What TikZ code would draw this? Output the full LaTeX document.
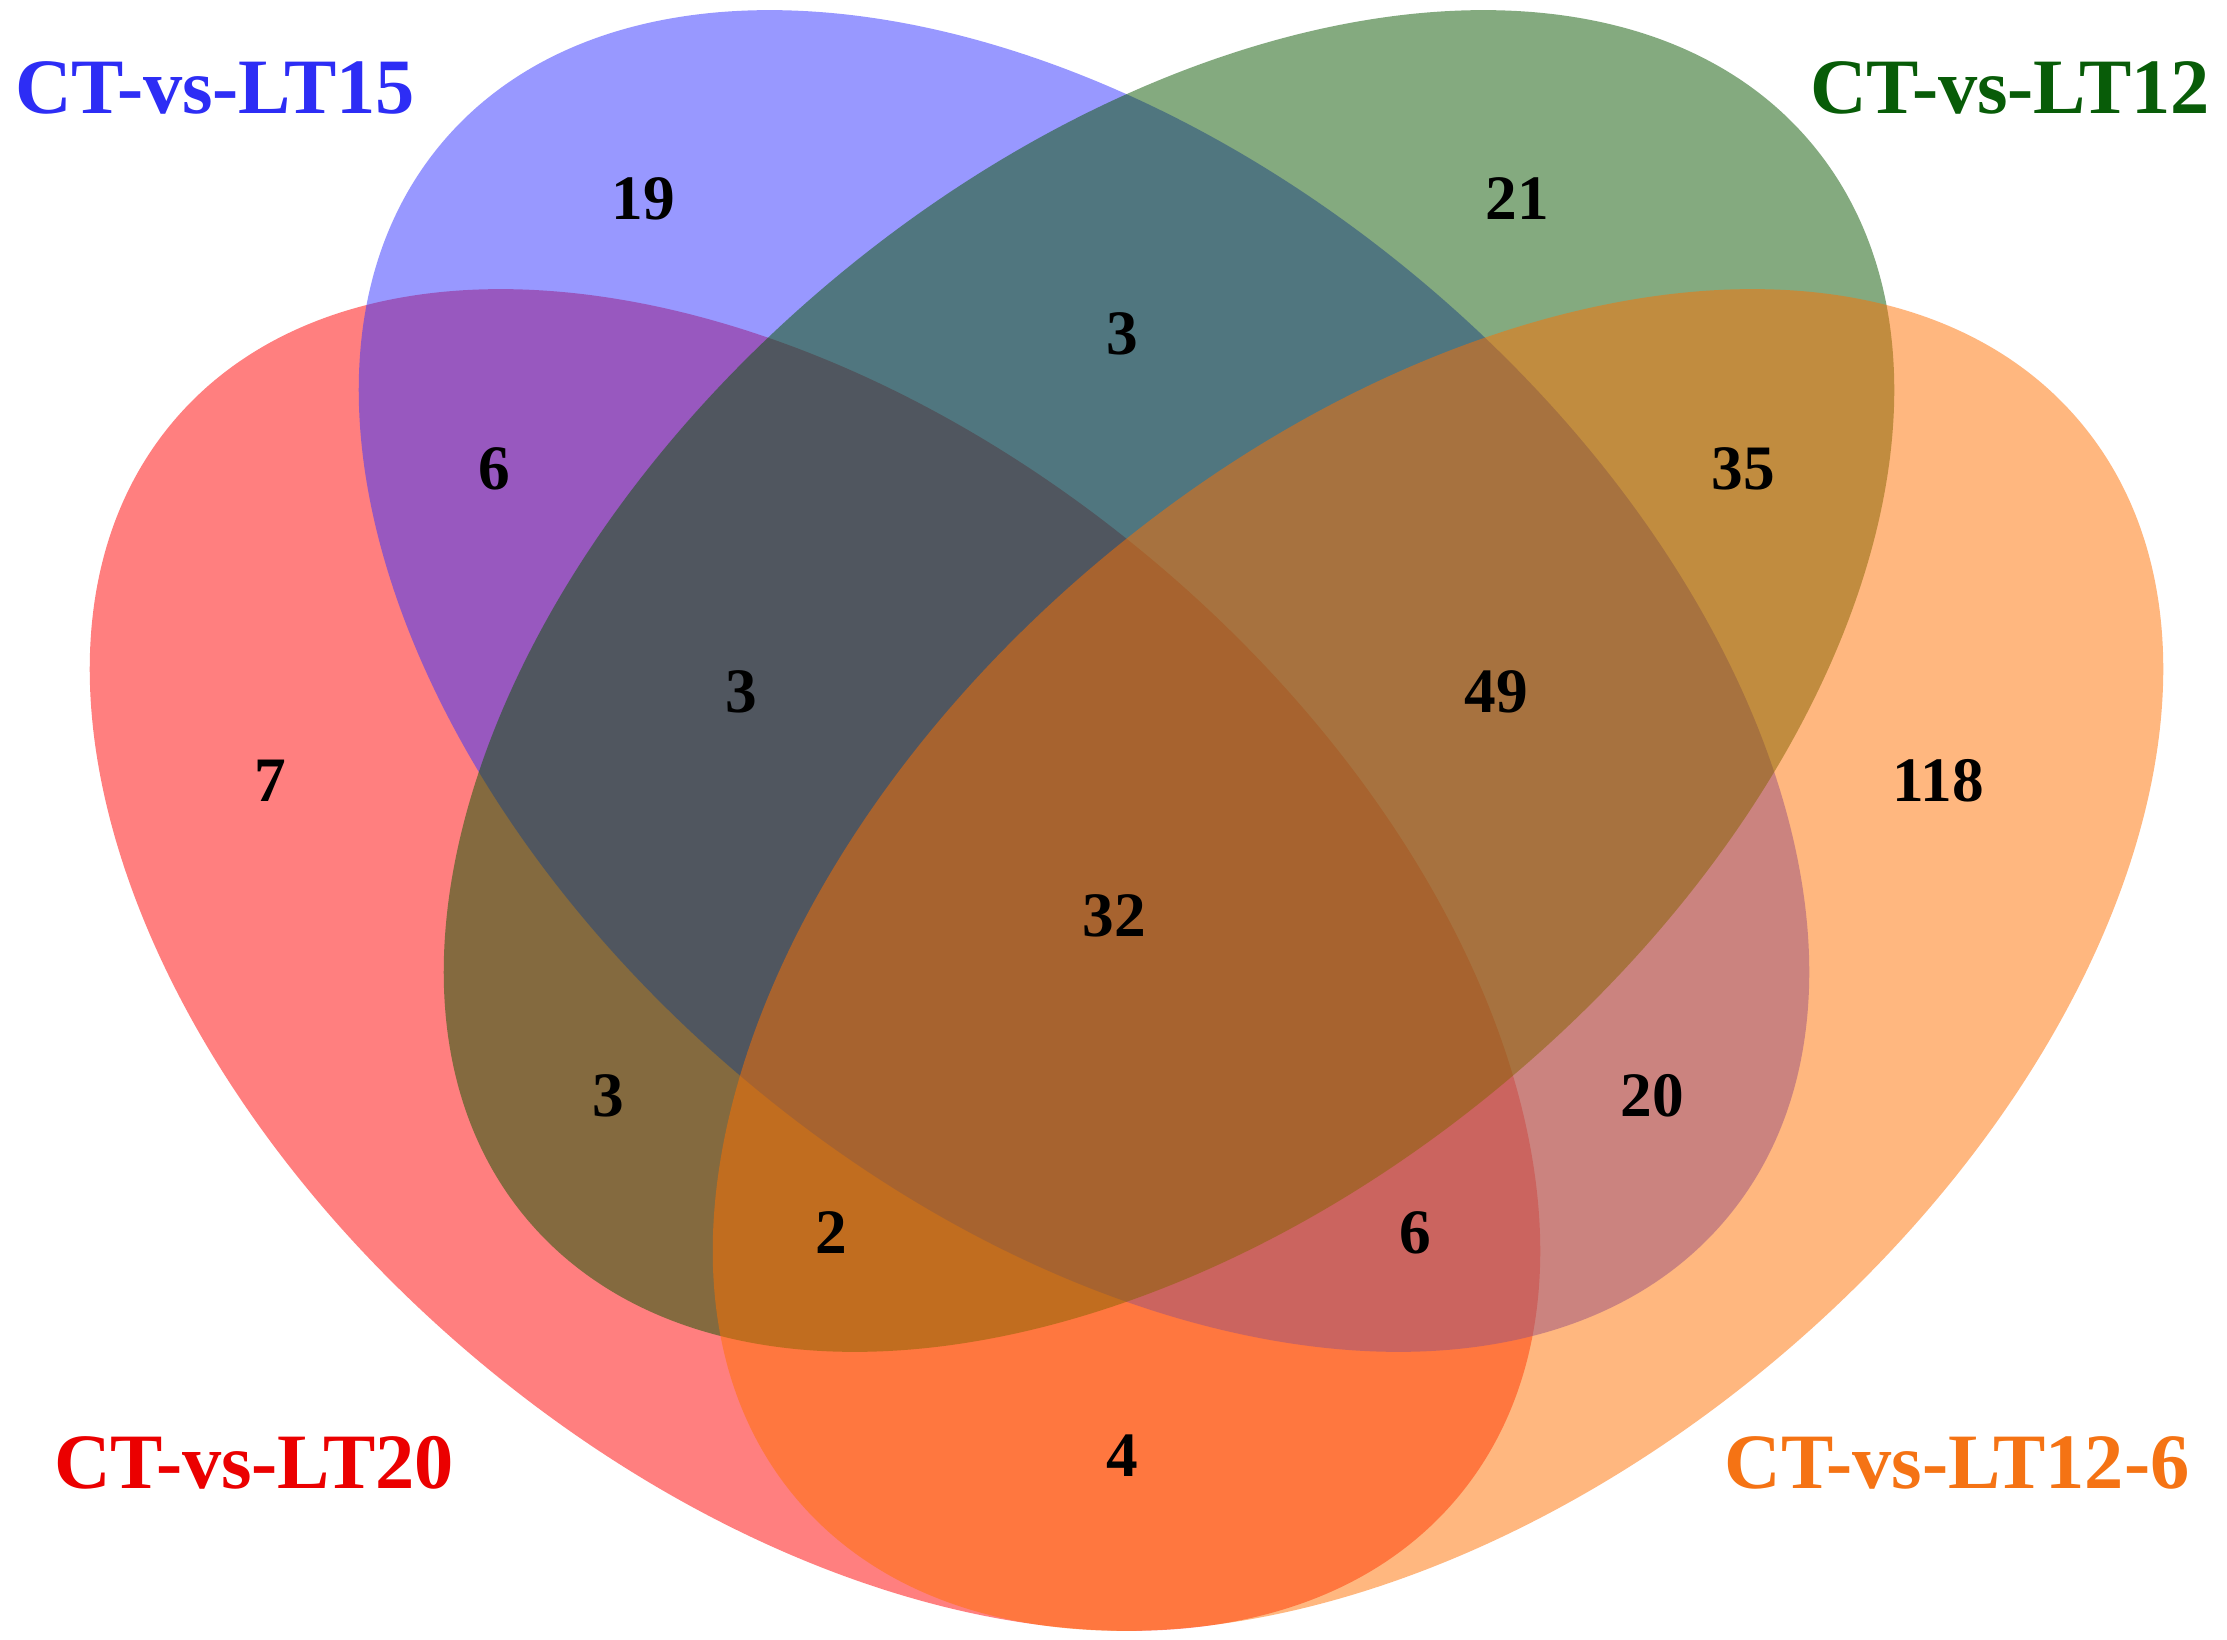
\documentclass[tikz,border=0pt]{standalone}
\usepackage{fontspec}
\setmainfont{Liberation Serif}
\definecolor{cred}{RGB}{255,0,0}
\definecolor{cblue}{RGB}{51,51,255}
\definecolor{cgreen}{RGB}{10,86,0}
\definecolor{corange}{RGB}{255,112,0}
\definecolor{lred}{RGB}{235,0,0}
\definecolor{lblue}{RGB}{45,45,245}
\definecolor{lgreen}{RGB}{8,92,8}
\definecolor{lorange}{RGB}{245,115,20}
\begin{document}
\begin{tikzpicture}[x=0.01cm,y=-0.01cm,
  setfill/.style={fill=#1, fill opacity=0.5, draw=none},
  num/.style={inner sep=0pt, text=black, font=\fontsize{18pt}{20pt}\selectfont\bfseries},
  lab/.style={inner sep=0pt, font=\fontsize{22.3pt}{24pt}\selectfont\bfseries}]
\useasboundingbox (0,0) rectangle (2227,1640);
\fill[white] (0,0) rectangle (2227,1640);
% sets (drawn in order: red, blue, green, orange)
\path[setfill=cred, shift={(815,960)}, rotate=-39.9] (0,0) ellipse [x radius=837.8, y radius=523.4];
\path[setfill=cblue, shift={(1084,681)}, rotate=-39.9] (0,0) ellipse [x radius=837.8, y radius=523.4];
\path[setfill=cgreen, shift={(1169,681)}, rotate=39.9] (0,0) ellipse [x radius=837.8, y radius=523.4];
\path[setfill=corange, shift={(1438,960)}, rotate=39.9] (0,0) ellipse [x radius=837.8, y radius=523.4];
% category labels
\node[lab, text=lblue] (l15) at (215,88) {CT-vs-LT15};
\node[lab, text=lgreen] (l12) at (2010,88) {CT-vs-LT12};
\node[lab, text=lred] (l20) at (254,1463) {CT-vs-LT20};
\node[lab, text=lorange] (l126) at (1957,1463) {CT-vs-LT12-6};
% counts
\node[num] (n19) at (643,199) {19};
\node[num] (n21) at (1517,199) {21};
\node[num] (n3a) at (1122,334) {3};
\node[num] (n6a) at (494,469) {6};
\node[num] (n35) at (1743,469) {35};
\node[num] (n3b) at (741,692) {3};
\node[num] (n49) at (1496,692) {49};
\node[num] (n7) at (270,781) {7};
\node[num] (n118) at (1938,781) {118};
\node[num] (n32) at (1114,916) {32};
\node[num] (n3c) at (608,1096) {3};
\node[num] (n20) at (1652,1096) {20};
\node[num] (n2) at (831,1233) {2};
\node[num] (n6b) at (1415,1233) {6};
\node[num] (n4) at (1122,1456) {4};
\end{tikzpicture}
\end{document}
